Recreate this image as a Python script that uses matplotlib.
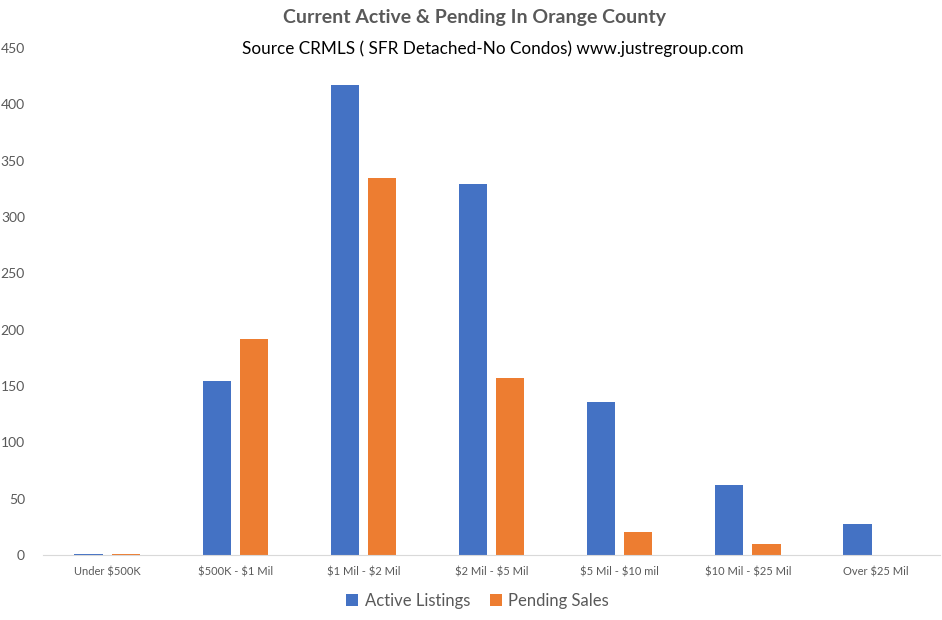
import numpy as np
import matplotlib.pyplot as plt

categories = ["Under $500K", "$500K - $1 Mil", "$1 Mil - $2 Mil", "$2 Mil - $5 Mil",
              "$5 Mil - $10 mil", "$10 Mil - $25 Mil", "Over $25 Mil"]
active = [1, 154, 417, 329, 136, 62, 27]
pending = [1, 192, 335, 157, 20, 10, 0]
yticks = [0, 50, 100, 150, 200, 250, 300, 350, 400, 450]

plt.rcParams['font.family'] = ['Lato', 'DejaVu Sans']
plt.rcParams['text.parse_math'] = False

fig = plt.figure(figsize=(9.42, 6.2), dpi=100)
ax = fig.add_axes([0.0456, 0.105, 0.9524, 0.8174])

x = np.arange(len(categories))
w = 0.22
ax.bar(x - 0.145, active, w, color='#4472C4', label='Active Listings')
ax.bar(x + 0.145, pending, w, color='#ED7D31', label='Pending Sales')

ax.set_xlim(-0.5, len(categories) - 0.5)
ax.set_ylim(0, 450)
ax.set_yticks(yticks)
ax.set_xticks(x)
ax.set_xticklabels(categories, fontsize=8, color='#595959')
ax.tick_params(axis='y', length=0, pad=13, labelsize=10, labelcolor='#595959')
ax.tick_params(axis='x', length=0, pad=8)
for s in ['top', 'right', 'left']:
    ax.spines[s].set_visible(False)
ax.spines['bottom'].set_color('#d9d9d9')

fig.text(0.504, 0.972, "Current Active & Pending In Orange County", ha='center', va='center',
         fontsize=14, fontweight='bold', color='#595959')
fig.text(0.523, 0.921, "Source CRMLS ( SFR Detached-No Condos) www.justregroup.com", ha='center',
         va='center', fontsize=12.3, color='black')

fig.legend(loc='center', bbox_to_anchor=(0.507, 0.031), ncol=2, frameon=False, fontsize=12,
           handlelength=0.7, handleheight=0.7, columnspacing=1.2, handletextpad=0.4,
           labelcolor='#595959')

fig.savefig('out.png', dpi=100)
